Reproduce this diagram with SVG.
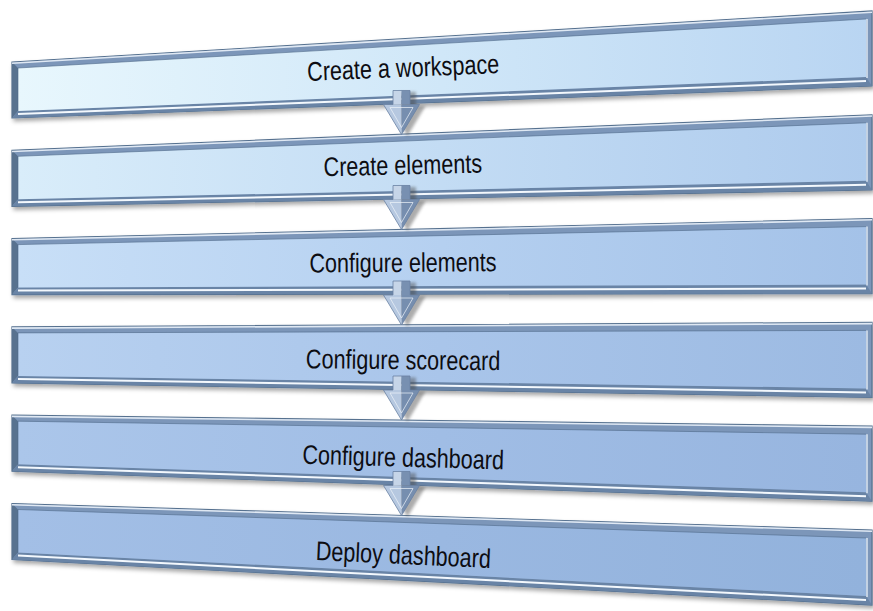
<svg xmlns="http://www.w3.org/2000/svg" width="873" height="611" viewBox="0 0 873 611">
  <defs>
    <style>
      .frame { fill: #7b96b9; stroke: #56718f; stroke-width: 1.2; }
      .lstrip { fill: #58728f; }
      .bstrip { fill: #6984a6; }
      .tophl { stroke: #dfe8f3; stroke-width: 1.6; fill: none; }
      .bothl { stroke: #f3f8fd; stroke-width: 2; fill: none; }
      .rhl { stroke: #e3ecf6; stroke-width: 1.4; fill: none; }
      .innerhl { stroke: #4e6989; stroke-width: 1; fill: none; opacity: 0.6; }
      .lbl { font-family: "Liberation Sans", Arial, sans-serif; font-size: 27px; fill: #0d0d12; text-anchor: middle; }
    </style>
    <filter id="sh" x="-5%" y="-20%" width="110%" height="150%">
      <feDropShadow dx="2" dy="3" stdDeviation="2" flood-color="#000" flood-opacity="0.35"/>
    </filter>
    <filter id="blur" x="-50%" y="-50%" width="200%" height="200%">
      <feGaussianBlur stdDeviation="1.6"/>
    </filter>
    <linearGradient id="g1" x1="0" y1="0" x2="1" y2="0">
      <stop offset="0" stop-color="#e8f7fd"/>
      <stop offset="0.5" stop-color="#d0e7f8"/>
      <stop offset="1" stop-color="#b9d5f2"/>
    </linearGradient>
    <linearGradient id="g2" x1="0" y1="0" x2="1" y2="0">
      <stop offset="0" stop-color="#d9edfa"/>
      <stop offset="0.5" stop-color="#c3dcf4"/>
      <stop offset="1" stop-color="#aecbed"/>
    </linearGradient>
    <linearGradient id="g3" x1="0" y1="0" x2="1" y2="0">
      <stop offset="0" stop-color="#c8dff7"/>
      <stop offset="0.5" stop-color="#b5d0f0"/>
      <stop offset="1" stop-color="#a4c2e8"/>
    </linearGradient>
    <linearGradient id="g4" x1="0" y1="0" x2="1" y2="0">
      <stop offset="0" stop-color="#b8d1f0"/>
      <stop offset="0.5" stop-color="#a9c5ea"/>
      <stop offset="1" stop-color="#9cbae2"/>
    </linearGradient>
    <linearGradient id="g5" x1="0" y1="0" x2="1" y2="0">
      <stop offset="0" stop-color="#abc6ea"/>
      <stop offset="0.5" stop-color="#a0bde5"/>
      <stop offset="1" stop-color="#97b5df"/>
    </linearGradient>
    <linearGradient id="g6" x1="0" y1="0" x2="1" y2="0">
      <stop offset="0" stop-color="#a3bfe6"/>
      <stop offset="0.5" stop-color="#9ab8e1"/>
      <stop offset="1" stop-color="#92b2dc"/>
    </linearGradient>
    <g id="arrow">
      <polygon points="-8.5,-14 8.5,-14 8.5,0 18,0 0,30 -18,0 -8.5,0" transform="translate(6,1.5)" fill="#4a4a4a" opacity="0.45" filter="url(#blur)"/>
      <rect x="-8.5" y="-14" width="8.5" height="14" fill="#c6d5e8"/>
      <rect x="0" y="-14" width="8.5" height="14" fill="#7890b1"/>
      <polygon points="-18,0 0,0 0,30" fill="#b6c8e0"/>
      <polygon points="0,0 18,0 0,30" fill="#768eaf"/>
      <polygon points="-11.5,3 11.5,3 0,23" fill="none" stroke="#eef4fa" stroke-width="1" opacity="0.7"/>
      <polygon points="-8.5,-14 8.5,-14 8.5,0 18,0 0,30 -18,0 -8.5,0" fill="none" stroke="#6a82a3" stroke-width="0.8"/>
    </g>
  </defs>

  <rect x="0" y="0" width="873" height="611" fill="#ffffff"/>

  <g id="step1">
    <polygon class="frame" points="12,62 872,11 872,86 12,118" filter="url(#sh)"/>
    <polygon class="lstrip" points="12,62 18,68 18,111 12,118"/>
    <polygon class="bstrip" points="12,118 18,111 866,77 872,86"/>
    <polygon points="18,68 866,19 866,77 18,111" fill="url(#g1)"/>
    <polyline class="innerhl" points="18,111 18,68 866,19"/>
    <line class="tophl" x1="12" y1="63.2" x2="872" y2="12.2"/>
    <line class="bothl" x1="18" y1="114" x2="866" y2="81"/>
    <line class="rhl" x1="867" y1="19" x2="867" y2="78"/>
    <text class="lbl" transform="translate(403.5,77) rotate(-2.4) scale(0.8,1)">Create a workspace</text>
  </g>

  <g id="step2">
    <polygon class="frame" points="12,150.3 872,114.8 872,189.8 12,206.3" filter="url(#sh)"/>
    <polygon class="lstrip" points="12,150.3 18,156.3 18,199.3 12,206.3"/>
    <polygon class="bstrip" points="12,206.3 18,199.3 866,180.8 872,189.8"/>
    <polygon points="18,156.3 866,122.8 866,180.8 18,199.3" fill="url(#g2)"/>
    <polyline class="innerhl" points="18,199.3 18,156.3 866,122.8"/>
    <line class="tophl" x1="12" y1="151.5" x2="872" y2="116"/>
    <line class="bothl" x1="18" y1="202.3" x2="866" y2="184.8"/>
    <line class="rhl" x1="867" y1="122.8" x2="867" y2="181.8"/>
    <text class="lbl" transform="translate(403,174.4) rotate(-1.4) scale(0.8,1)">Create elements</text>
  </g>

  <g id="step3">
    <polygon class="frame" points="12,238.6 872,218.6 872,293.6 12,294.6" filter="url(#sh)"/>
    <polygon class="lstrip" points="12,238.6 18,244.6 18,287.6 12,294.6"/>
    <polygon class="bstrip" points="12,294.6 18,287.6 866,284.6 872,293.6"/>
    <polygon points="18,244.6 866,226.6 866,284.6 18,287.6" fill="url(#g3)"/>
    <polyline class="innerhl" points="18,287.6 18,244.6 866,226.6"/>
    <line class="tophl" x1="12" y1="239.8" x2="872" y2="219.8"/>
    <line class="bothl" x1="18" y1="290.6" x2="866" y2="288.6"/>
    <line class="rhl" x1="867" y1="226.6" x2="867" y2="285.6"/>
    <text class="lbl" transform="translate(403,271.8) rotate(-0.4) scale(0.8,1)">Configure elements</text>
  </g>

  <g id="step4">
    <polygon class="frame" points="12,326.9 872,322.4 872,397.4 12,382.9" filter="url(#sh)"/>
    <polygon class="lstrip" points="12,326.9 18,332.9 18,375.9 12,382.9"/>
    <polygon class="bstrip" points="12,382.9 18,375.9 866,388.4 872,397.4"/>
    <polygon points="18,332.9 866,330.4 866,388.4 18,375.9" fill="url(#g4)"/>
    <polyline class="innerhl" points="18,375.9 18,332.9 866,330.4"/>
    <line class="tophl" x1="12" y1="328.1" x2="872" y2="323.6"/>
    <line class="bothl" x1="18" y1="378.9" x2="866" y2="392.4"/>
    <line class="rhl" x1="867" y1="330.4" x2="867" y2="389.4"/>
    <text class="lbl" transform="translate(403,369.2) rotate(0.6) scale(0.8,1)">Configure scorecard</text>
  </g>

  <g id="step5">
    <polygon class="frame" points="12,415.2 872,426.2 872,501.2 12,471.2" filter="url(#sh)"/>
    <polygon class="lstrip" points="12,415.2 18,421.2 18,464.2 12,471.2"/>
    <polygon class="bstrip" points="12,471.2 18,464.2 866,492.2 872,501.2"/>
    <polygon points="18,421.2 866,434.2 866,492.2 18,464.2" fill="url(#g5)"/>
    <polyline class="innerhl" points="18,464.2 18,421.2 866,434.2"/>
    <line class="tophl" x1="12" y1="416.4" x2="872" y2="427.4"/>
    <line class="bothl" x1="18" y1="467.2" x2="866" y2="496.2"/>
    <line class="rhl" x1="867" y1="434.2" x2="867" y2="493.2"/>
    <text class="lbl" transform="translate(403,466.6) rotate(1.6) scale(0.8,1)">Configure dashboard</text>
  </g>

  <g id="step6">
    <polygon class="frame" points="12,503.5 872,530 872,605 12,559.5" filter="url(#sh)"/>
    <polygon class="lstrip" points="12,503.5 18,509.5 18,552.5 12,559.5"/>
    <polygon class="bstrip" points="12,559.5 18,552.5 866,596 872,605"/>
    <polygon points="18,509.5 866,538 866,596 18,552.5" fill="url(#g6)"/>
    <polyline class="innerhl" points="18,552.5 18,509.5 866,538"/>
    <line class="tophl" x1="12" y1="504.7" x2="872" y2="531.2"/>
    <line class="bothl" x1="18" y1="555.5" x2="866" y2="600"/>
    <line class="rhl" x1="867" y1="538" x2="867" y2="597"/>
    <text class="lbl" transform="translate(403,564) rotate(2.6) scale(0.8,1)">Deploy dashboard</text>
  </g>

  <g id="connectors">
    <use href="#arrow" transform="translate(401.5,104.5)"/>
    <use href="#arrow" transform="translate(401.5,199.5)"/>
    <use href="#arrow" transform="translate(401.5,295)"/>
    <use href="#arrow" transform="translate(401.5,390)"/>
    <use href="#arrow" transform="translate(401.5,485.5)"/>
  </g>
</svg>
